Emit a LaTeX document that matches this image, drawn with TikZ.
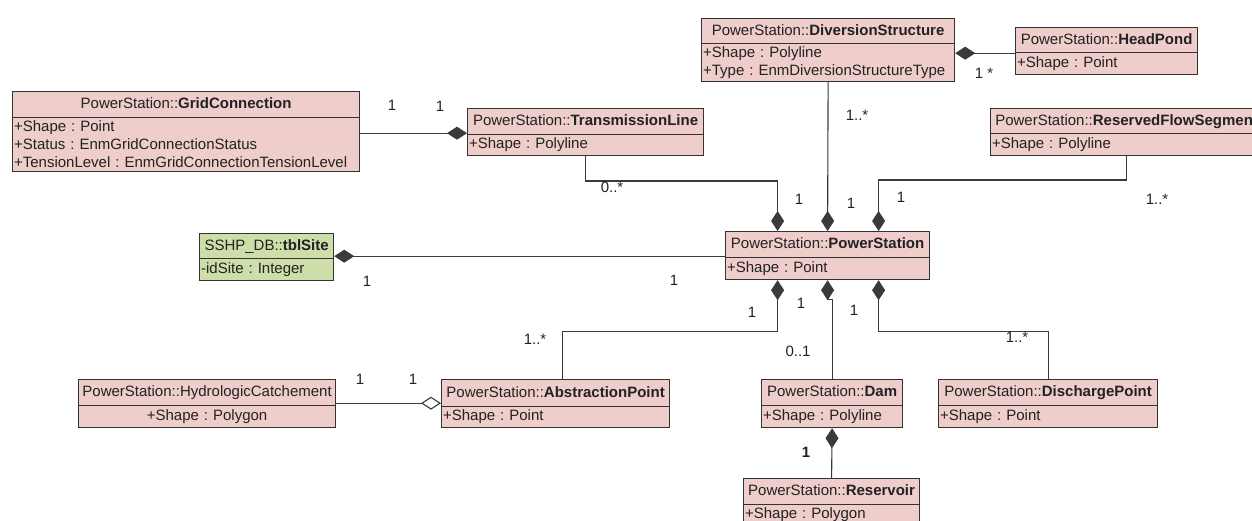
\documentclass[tikz,border=0pt]{standalone}
\usepackage{fontspec}
\setmainfont{Liberation Sans}
\usetikzlibrary{arrows.meta}
\frenchspacing
\definecolor{clspink}{HTML}{EECDCA}
\definecolor{clsgreen}{HTML}{CDDEAA}
\definecolor{bordc}{HTML}{333333}
\definecolor{linec}{HTML}{3A3A3A}
\definecolor{txtc}{HTML}{222222}
\newcommand{\umlcls}[9]{%
  \pgfmathsetmacro{\clsW}{#4-#2}%
  \pgfmathsetmacro{\clsHa}{#5-#3}%
  \pgfmathsetmacro{\clsHb}{#6-#5}%
  \pgfmathsetmacro{\clsTW}{#4-#2-3}%
  \node[clshead, fill=#9, minimum width=\clsW pt, minimum height=\clsHa pt] (#1) at (#2,#3) {#7};
  \node[clsattr, fill=#9, minimum width=\clsW pt, minimum height=\clsHb pt, text width=\clsTW pt] (#1-a) at (#2,#5) {#8};
}
\tikzset{
  clsbase/.style={draw=bordc, line width=1.2pt, anchor=north west, inner ysep=0pt, text=txtc, font=\fontsize{15pt}{18pt}\selectfont\frenchspacing},
  clshead/.style={clsbase, inner xsep=2pt, text height=11pt, text depth=3pt},
  clsattr/.style={clsbase, inner xsep=1.5pt, align=left},
  conn/.style={draw=linec, line width=1.1pt},
  comp/.style={conn, -{Diamond[length=20pt,width=13pt,fill=linec]}},
  aggr/.style={conn, -{Diamond[open,length=20pt,width=13pt,fill=white]}},
  lbl/.style={font=\fontsize{15pt}{18pt}\selectfont, text=txtc, inner sep=0pt},
}
\begin{document}
\begin{tikzpicture}[x=1pt,y=-1pt]
\useasboundingbox (0,0) rectangle (1252,521);
% classes
\umlcls{gc}{12}{91}{359}{117}{171}{PowerStation::\textbf{GridConnection}}{+Shape : Point\\+Status : EnmGridConnectionStatus\\+TensionLevel : EnmGridConnectionTensionLevel}{clspink}
\umlcls{tl}{467}{108}{703}{134}{155}{PowerStation::\textbf{TransmissionLine}}{+Shape : Polyline}{clspink}
\umlcls{ds}{701}{18}{954}{43}{81}{PowerStation::\textbf{DiversionStructure}}{+Shape : Polyline\\+Type : EnmDiversionStructureType}{clspink}
\umlcls{hp}{1015}{27}{1197}{52}{74}{PowerStation::\textbf{HeadPond}}{+Shape : Point}{clspink}
\umlcls{rfs}{990}{108}{1262}{133}{155}{PowerStation::\textbf{ReservedFlowSegment}}{+Shape : Polyline}{clspink}
\umlcls{tbl}{199}{233}{333}{258}{280}{SSHP\_DB::\textbf{tblSite}}{-idSite : Integer}{clsgreen}
\umlcls{ps}{725}{231}{929}{257}{279}{PowerStation::\textbf{PowerStation}}{+Shape : Point}{clspink}
\umlcls{hc}{78}{379}{335}{405}{427}{PowerStation::HydrologicCatchement}{\makebox[\linewidth][c]{+Shape : Polygon}}{clspink}
\umlcls{ap}{441}{379}{669}{406}{427}{PowerStation::\textbf{AbstractionPoint}}{+Shape : Point}{clspink}
\umlcls{dam}{761}{379}{902}{405}{427}{PowerStation::\textbf{Dam}}{+Shape : Polyline}{clspink}
\umlcls{dp}{938}{379}{1157}{405}{427}{PowerStation::\textbf{DischargePoint}}{+Shape : Point}{clspink}
\umlcls{res}{743}{478}{919}{504}{524}{PowerStation::\textbf{Reservoir}}{+Shape : Polygon}{clspink}
% helper coordinates
\coordinate (pst1) at ([xshift=-50pt]ps.north);
\coordinate (pst3) at ([xshift=51pt]ps.north);
\coordinate (psb1) at ([xshift=-50pt]ps-a.south);
\coordinate (psb3) at ([xshift=51pt]ps-a.south);
\coordinate (aptop) at ([xshift=7pt]ap.north);
\coordinate (gcj) at ([yshift=2pt]tl.south west);
\coordinate (tblj) at ([yshift=2pt]ps.south west);
\coordinate (hcj) at ([yshift=4pt]ap.south west);
\coordinate (damj) at ([yshift=-19pt]ps-a.south);
% connectors
\draw[comp] (gc-a.east |- gcj) -- (gcj);
\draw[comp] (tl-a.south) |- ([yshift=50pt]pst1) -- (pst1);
\draw[comp] (ds-a.south) -- (ps.north);
\draw[comp] (rfs-a.south) |- ([yshift=51pt]pst3) -- (pst3);
\draw[comp] (hp.south west) -- (hp.south west -| ds-a.east);
\draw[comp] (tblj) -- (tblj -| tbl.east);
\draw[comp] (aptop) |- ([yshift=-51pt]psb1) -- (psb1);
\draw[comp] (dam.north) |- (damj) -- (ps-a.south);
\draw[comp] (dp.north) |- ([yshift=-51pt]psb3) -- (psb3);
\draw[aggr] (hcj -| hc-a.east) -- (hcj);
\draw[comp] (res.north) -- (dam-a.south);
% multiplicity labels
\node[lbl] (m1) at (392,105) {1};
\node[lbl] (m2) at (440,106) {1};
\node[lbl] (m3) at (612,187) {0..*};
\node[lbl] (m4) at (799,199) {1};
\node[lbl] (m5) at (857,115) {1..*};
\node[lbl] (m6) at (851,203) {1};
\node[lbl] (m7) at (901,197) {1};
\node[lbl] (m8) at (1157,199) {1..*};
\node[lbl] (m9) at (984,73) {1 *};
\node[lbl] (m10) at (367,281) {1};
\node[lbl] (m11) at (674,280) {1};
\node[lbl] (m12) at (752,312) {1};
\node[lbl] (m13) at (535,339) {1..*};
\node[lbl] (m14) at (801,303) {1};
\node[lbl] (m15) at (798,351) {0..1};
\node[lbl] (m16) at (854,310) {1};
\node[lbl] (m17) at (1017,337) {1..*};
\node[lbl] (m18) at (360,379) {1};
\node[lbl] (m19) at (413,379) {1};
\node[lbl] (m20) at (806,452) {\textbf{1}};
\end{tikzpicture}
\end{document}
